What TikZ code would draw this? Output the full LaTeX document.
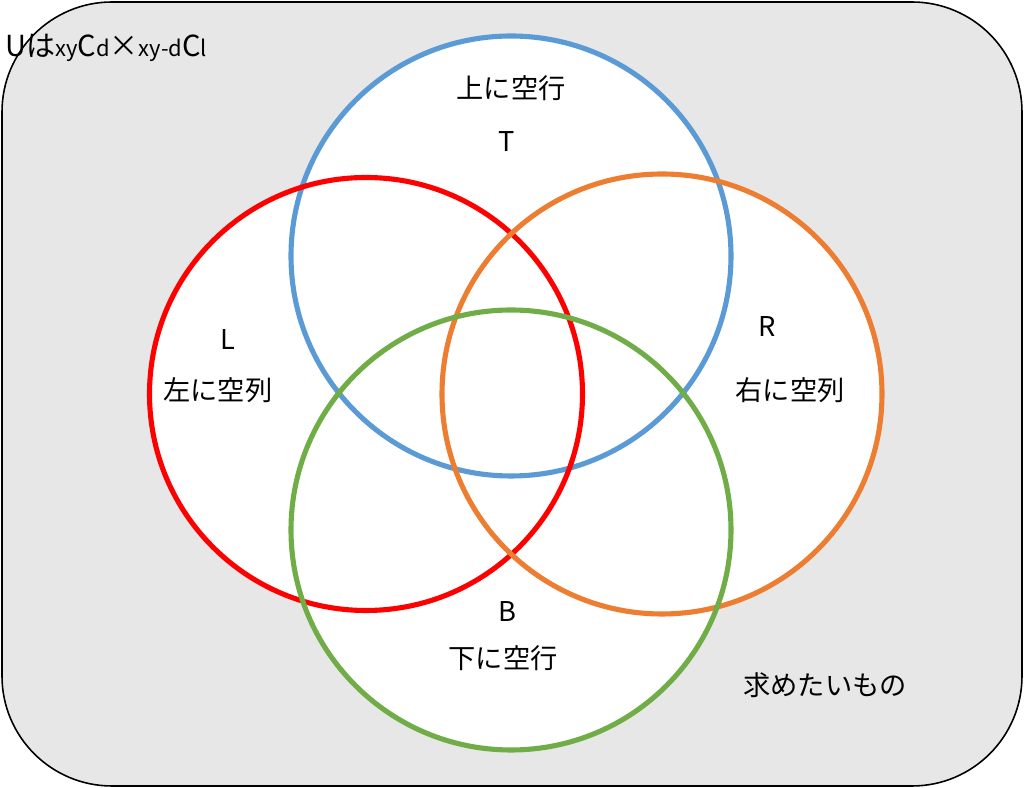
\documentclass[tikz,border=0pt]{standalone}
\usepackage{fontspec}
\setmainfont{Noto Sans CJK JP}
\usepackage{tikz}
\usetikzlibrary{positioning}
\usepackage{xcolor}
\definecolor{vennGray}{HTML}{E7E7E7}
\definecolor{vennBlue}{HTML}{5B9BD5}
\definecolor{vennRed}{HTML}{FF0000}
\definecolor{vennOrange}{HTML}{ED7D31}
\definecolor{vennGreen}{HTML}{70AD47}

\begin{document}
\begin{tikzpicture}[font=\fontsize{15.5}{18}\selectfont,
    ring/.style={line width=2.9pt},
    lbl/.style={inner sep=0pt, text=black}]
        \useasboundingbox (0,0) rectangle (20.48,15.76);
        % Universo
        \draw[fill=vennGray, draw=black, line width=0.9pt, rounded corners=2.2cm]
          (0.04,0.04) rectangle (20.44,15.72);
        % Centros de los conjuntos
        \coordinate (cT) at (10.22,10.64);
        \coordinate (cL) at (7.32,7.88);
        \coordinate (cR) at (13.24,7.88);
        \coordinate (cB) at (10.22,5.16);
        % Interior blanco
        \fill[white] (cT) circle (4.4);
        \fill[white] (cL) circle (4.33);
        \fill[white] (cR) circle (4.4);
        \fill[white] (cB) circle (4.4);
        % Contornos
        \draw[ring, vennBlue] (cT) circle (4.4);
        \draw[ring, vennRed] (cL) circle (4.33);
        \draw[ring, vennOrange] (cR) circle (4.4);
        \draw[ring, vennGreen] (cB) circle (4.4);
        % Etiquetas
        \node[lbl] (topJ) at (10.22,14.0) {上に空行};
        \node[lbl] (topT) at (10.14,12.92) {T};
        \node[lbl] (leftL) at (4.56,8.96) {L};
        \node[lbl] (leftJ) at (4.36,7.96) {左に空列};
        \node[lbl] (rightR) at (15.34,9.22) {R};
        \node[lbl] (rightJ) at (15.80,7.96) {右に空列};
        \node[lbl] (botB) at (10.14,3.52) {B};
        \node[lbl] (botJ) at (10.06,2.60) {下に空行};
        \node[lbl] (want) at (16.50,2.06) {求めたいもの};
        \node[lbl, anchor=west, font=\fontsize{16.5}{19}\selectfont] (univ) at (0.10,14.80)
          {Uは{\fontsize{12.5}{14}\selectfont xy}C{\fontsize{12.5}{14}\selectfont d}×{\fontsize{12.5}{14}\selectfont xy-d}C{\fontsize{12.5}{14}\selectfont l}};
      \end{tikzpicture}
\end{document}
